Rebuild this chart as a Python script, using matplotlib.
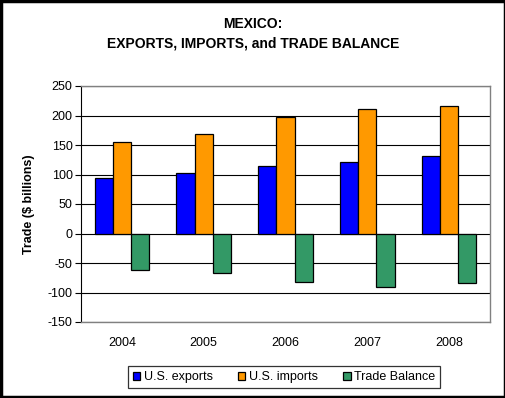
import matplotlib
matplotlib.use("Agg")
import matplotlib.pyplot as plt
import numpy as np
from matplotlib.patches import Rectangle

years = ["2004", "2005", "2006", "2007", "2008"]
us_exports = [94, 102, 114, 121, 131]
us_imports = [155, 168, 197, 211, 216]
trade_balance = [-62, -67, -82, -91, -84]
yticks = [-150, -100, -50, 0, 50, 100, 150, 200, 250]

plt.rcParams['font.family'] = ['Liberation Sans', 'DejaVu Sans']

fig = plt.figure(figsize=(5.06, 3.98), dpi=100)
ax = fig.add_axes([81/506, 1-322/398, 409/506, 236/398])

x = np.arange(len(years))
w = 0.222
series = [(us_exports, "#0000FF", "U.S. exports"),
          (us_imports, "#FF9900", "U.S. imports"),
          (trade_balance, "#339966", "Trade Balance")]
for i, (vals, col, lab) in enumerate(series):
    ax.bar(x + (i - 1) * w, vals, width=w, color=col, edgecolor="black",
           linewidth=0.9, label=lab, zorder=3)

ax.set_xlim(-0.5, len(years) - 0.5)
ax.set_ylim(-150, 250)
ax.set_yticks(yticks)
ax.set_yticklabels([str(t) for t in yticks], fontsize=9)
ax.set_xticks(x)
ax.set_xticklabels(years, fontsize=9)
ax.tick_params(axis='x', length=0, pad=11)
ax.tick_params(axis='y', length=4, width=0.8, direction='out', pad=2)
ax.yaxis.grid(True, color='black', linewidth=0.8, zorder=0)
ax.set_axisbelow(True)
for s in ['top', 'right', 'bottom']:
    ax.spines[s].set_color('#808080')
    ax.spines[s].set_linewidth(1.0)
ax.spines['left'].set_color('black')
ax.spines['left'].set_linewidth(0.8)

ax.set_ylabel("Trade ($ billions)", fontsize=9, fontweight='bold', labelpad=9)

fig.text(0.5, 1 - 24/398, "MEXICO:", ha='center', va='center', fontsize=10, fontweight='bold')
fig.text(0.5, 1 - 43/398, "EXPORTS, IMPORTS, and TRADE BALANCE", ha='center', va='center',
         fontsize=10, fontweight='bold')

leg = fig.legend(loc='center', bbox_to_anchor=(284/506, 1 - 377/398), ncol=3, fontsize=9,
                 frameon=True, fancybox=False, edgecolor='black', handlelength=0.6,
                 handleheight=0.6, handletextpad=0.3, columnspacing=2.0, borderpad=0.4)
leg.get_frame().set_linewidth(0.9)

fig.patches.append(Rectangle((0.002, 0.003), 0.996, 0.994, transform=fig.transFigure,
                             fill=False, edgecolor='black', linewidth=2.5))

fig.savefig("out.png", dpi=100)
